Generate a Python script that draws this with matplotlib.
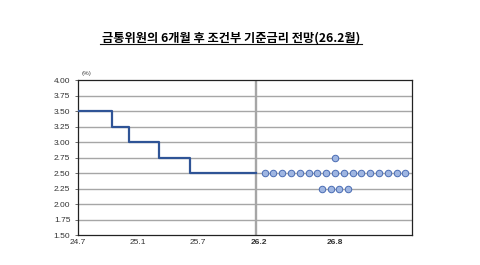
import matplotlib.pyplot as plt
import numpy as np

plt.rcParams['font.family'] = ['Liberation Sans', 'Noto Sans CJK KR', 'DejaVu Sans']

# x축 단위: 24.7 이후 개월 수
rate_x = [0, 3.4, 5.1, 8.1, 11.2, 17.8]
rate_y = [3.50, 3.25, 3.00, 2.75, 2.50, 2.50]

# 6개월 후 전망 점 (금리 수준별 점 개수)
dot_levels = [2.75, 2.50, 2.25]
dot_counts = [1, 17, 4]
dot_center = 25.7
dot_step = 0.88

now_x = 17.8
xtick_pos = [0, 6, 12, 18.1, 25.7]
xtick_labels = ['24.7', '25.1', '25.7', '26.2', '26.8']
yticks = [1.50, 1.75, 2.00, 2.25, 2.50, 2.75, 3.00, 3.25, 3.50, 3.75, 4.00]

fig = plt.figure(figsize=(4.8, 2.65), dpi=100)
ax = fig.add_axes([0.1625, 0.113, 0.6958, 0.585])

for y in yticks[1:-1]:
    ax.axhline(y, color='#a6a6a6', lw=1.0, zorder=1)
ax.axvline(now_x, color='#a6a6a6', lw=1.7, zorder=1)

ax.plot(rate_x, rate_y, drawstyle='steps-post', color='#2f5496', lw=1.6, zorder=3)

for lv, n in zip(dot_levels, dot_counts):
    xs = dot_center + (np.arange(n) - (n - 1) / 2) * dot_step
    ax.scatter(xs, [lv] * n, s=22, facecolor='#9fb6e2', edgecolor='#4a6cb3',
               linewidths=0.7, zorder=4)

ax.set_xlim(0, 33.4)
ax.set_ylim(1.5, 4.0)
ax.set_yticks(yticks)
ax.set_yticklabels(['%.2f' % v for v in yticks], fontsize=6, color='#333333')
ax.set_xticks(xtick_pos)
ax.set_xticklabels(xtick_labels, fontsize=6, color='#333333')
for i, t in enumerate(ax.get_xticklabels()):
    if i >= 3:
        t.set_fontweight('bold')
ax.tick_params(axis='x', length=0, pad=3)
ax.tick_params(axis='y', length=2.5, width=0.6, pad=3, color='#555555')
for s in ax.spines.values():
    s.set_color('#222222')
    s.set_linewidth(0.9)

fig.text(0.1705, 0.718, '(%)', fontsize=4.5, color='#444444')
fig.text(0.481, 0.855, '금통위원의 6개월 후 조건부 기준금리 전망(26.2월)',
         ha='center', va='center', fontsize=8.8, fontweight='bold',
         family=['Noto Sans CJK KR', 'DejaVu Sans'])
fig.add_artist(plt.Line2D([0.208, 0.754], [0.833, 0.833], color='#111111', lw=0.8))

fig.savefig('out.png', dpi=100)
